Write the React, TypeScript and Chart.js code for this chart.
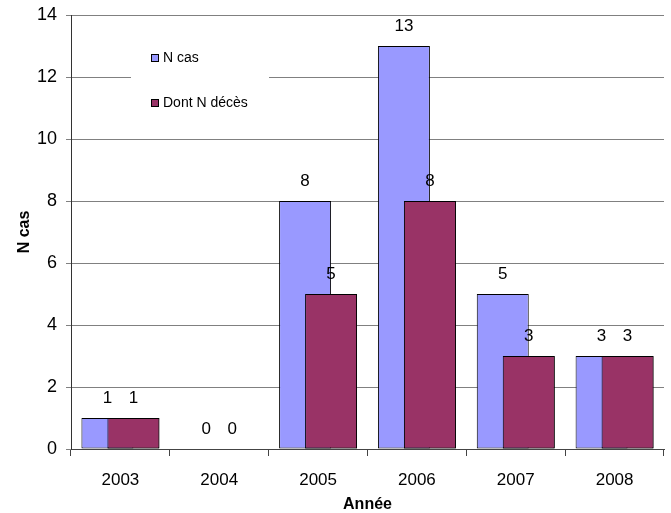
import React, { useEffect, useRef } from "react";
import { Chart, registerables } from "chart.js";

Chart.register(...registerables);

const categories = ["2003", "2004", "2005", "2006", "2007", "2008"];
const nCas = [1, 0, 8, 13, 5, 3];
const nDeces = [1, 0, 5, 8, 3, 3];
const seriesNames = ["N cas", "Dont N décès"];
const seriesColors = ["#9999FF", "#993366"];
const yTicks = [0, 2, 4, 6, 8, 10, 12, 14];

const FONT = '"Liberation Sans", Arial, sans-serif';

// Excel draws the second series over the first: redraw it on top
const frontSeries = {
  id: "frontSeries",
  afterDatasetsDraw(chart: any) {
    const ctx = chart.ctx;
    const meta = chart.getDatasetMeta(1);
    ctx.save();
    meta.data.forEach((el: any) => el.draw(ctx));
    ctx.restore();
  },
};

const valueLabels = {
  id: "valueLabels",
  afterDatasetsDraw(chart: any) {
    const ctx = chart.ctx;
    ctx.save();
    ctx.font = `17px ${FONT}`;
    ctx.fillStyle = "#000";
    ctx.textAlign = "center";
    ctx.textBaseline = "middle";
    chart.data.datasets.forEach((ds: any, i: number) => {
      const meta = chart.getDatasetMeta(i);
      meta.data.forEach((el: any, j: number) => {
        ctx.fillText(String(ds.data[j]), el.x, el.y - 20);
      });
    });
    ctx.restore();
  },
};

const boxLegend = {
  id: "boxLegend",
  afterDraw(chart: any) {
    const ctx = chart.ctx;
    ctx.save();
    ctx.fillStyle = "#fff";
    ctx.fillRect(131, 28, 138, 100);
    const ys = [58, 103];
    ctx.font = `14px ${FONT}`;
    ctx.textAlign = "left";
    ctx.textBaseline = "middle";
    seriesNames.forEach((name, i) => {
      ctx.fillStyle = seriesColors[i];
      ctx.fillRect(151.5, ys[i] - 3.5, 7, 7);
      ctx.strokeStyle = "#000";
      ctx.lineWidth = 1;
      ctx.strokeRect(151.5, ys[i] - 3.5, 7, 7);
      ctx.fillStyle = "#000";
      ctx.fillText(name, 163, ys[i]);
    });
    ctx.restore();
  },
};

export default function App() {
  const ref = useRef<HTMLCanvasElement | null>(null);
  useEffect(() => {
    document.body.style.margin = "0";
    if (!ref.current) return;
    const chart = new Chart(ref.current, {
      type: "bar",
      data: {
        labels: categories,
        datasets: [
          {
            label: seriesNames[0],
            data: nCas,
            backgroundColor: seriesColors[0],
            borderColor: "#000",
            borderWidth: 1,
            borderSkipped: false,
            categoryPercentage: 0.526,
            barPercentage: 2,
          },
          {
            label: seriesNames[1],
            data: nDeces,
            backgroundColor: seriesColors[1],
            borderColor: "#000",
            borderWidth: 1,
            borderSkipped: false,
            categoryPercentage: 0.526,
            barPercentage: 2,
          },
        ],
      },
      options: {
        animation: false,
        responsive: true,
        maintainAspectRatio: false,
        layout: { padding: { top: 15, right: 7, left: 0, bottom: 0 } },
        plugins: {
          legend: { display: false },
          tooltip: { enabled: false },
        },
        scales: {
          x: {
            grid: {
              offset: true,
              drawOnChartArea: false,
              drawTicks: true,
              tickLength: 7,
              color: "#444",
            },
            border: { color: "#444", width: 1 },
            ticks: {
              color: "#000",
              font: { family: FONT, size: 17 },
              padding: 14,
              maxRotation: 0,
            },
            title: {
              display: true,
              text: "Année",
              color: "#000",
              font: { family: FONT, size: 16, weight: "bold", lineHeight: 1 },
              padding: { top: 0, bottom: 0 },
            },
            afterFit(scale: any) {
              scale.height = 64;
            },
          },
          y: {
            min: 0,
            max: 14,
            afterBuildTicks(scale: any) {
              scale.ticks = yTicks.map((v) => ({ value: v }));
            },
            grid: {
              color: "#808080",
              tickLength: 5,
            },
            border: { color: "#333", width: 1 },
            ticks: {
              color: "#000",
              font: { family: FONT, size: 18 },
              padding: 9,
            },
            title: {
              display: true,
              text: "N cas",
              color: "#000",
              font: { family: FONT, size: 16, weight: "bold", lineHeight: 1 },
              padding: { top: 17, bottom: 0 },
            },
            afterFit(scale: any) {
              scale.width = 71;
              scale.paddingTop = 0;
            },
          },
        },
      },
      plugins: [frontSeries, valueLabels, boxLegend],
    });
    return () => chart.destroy();
  }, []);
  return (
    <div style={{ width: 671, height: 513, position: "relative" }}>
      <canvas ref={ref} />
    </div>
  );
}
